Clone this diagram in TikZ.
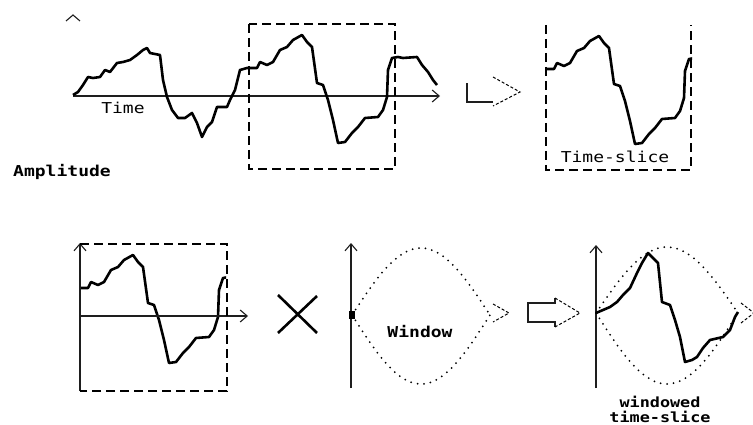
\documentclass[tikz,border=0pt]{standalone}
\usepackage{fontspec}
\usetikzlibrary{arrows.meta}
\newfontfamily\pixfont[FakeStretch=1.2]{DejaVu Sans Mono}
\definecolor{sliceInk}{RGB}{0,0,0}
\definecolor{slicePaper}{RGB}{255,255,255}
\definecolor{sliceAxis}{RGB}{30,30,30}

% recorded signal, one x/y pair per pixel column step
\def\signalpts{73/95,78/92,83/85,88/77,93/78,100/77,105/70,110/72,117/63,
  123/62,130/60,137/55,143/50,147/48,150/53,160/55,163/80,167/97,172/110,
  178/118,185/118,192/113,197/123,202/137,207/127,212/122,217/107,227/107,
  230/100,235/90,240/70,247/68,257/68,260/62,267/65,273/62,280/50,287/47,
  293/40,302/35,307/42,312/47,317/83,323/85,328/100,333/120,338/143,
  345/142,352/133,358/127,365/118,378/117,383/110,387/97,388/70,392/58,
  398/57,403/58,417/57,422/65,428/72,433/80,437/85}
\def\windowedpts{603/310,610/307,617/302,623/295,630/288,637/273,642/263,
  648/253,653/258,658/263,662/302,670/305,675/320,680/337,685/362,692/360,
  697/357,703/348,710/340,723/337,730/330,735/317,738/312}

\begin{document}
\begin{tikzpicture}[x=1pt,y=-1pt,
    signal/.style={draw=sliceInk, line width=2.6pt, line join=round},
    axis/.style={draw=sliceAxis, line width=1.1pt},
    axishead/.style={axis, -{Straight Barb[length=7pt,width=12pt]}},
    framedash/.style={draw=sliceInk, line width=1.2pt,
      dash pattern=on 9pt off 5pt},
    headdash/.style={draw=sliceInk, line width=1pt,
      dash pattern=on 3pt off 2pt},
    envelope/.style={draw=sliceInk, line width=2pt, line cap=round,
      dash pattern=on 0pt off 6.5pt},
    label/.style={font=\pixfont\fontsize{15}{13}\selectfont, text=sliceInk},
    boldlabel/.style={label, font=\pixfont\bfseries\fontsize{15}{13}\selectfont}]
  \useasboundingbox (0,0) rectangle (753,425);
  \fill[slicePaper] (0,0) rectangle (753,425);

  % top: whole signal
  \draw[axis] (66,21) -- (73,15) -- (80,21);
  \draw[axishead] (73,96) -- (440,96);
  \draw[signal] (73,95) foreach \px/\py in \signalpts {-- (\px,\py)};
  \draw[framedash] (249,24) rectangle (395,169);
  \node[label] (timeLabel) at (123,108) {Time};
  \node[boldlabel] (ampLabel) at (62,172) {Amplitude};

  \draw[axis] (493,102) -- (467,102) -- (467,83);
  \draw[headdash] (493,77) -- (520,92) -- (493,106);

  % top right: the cut-out slice
  \begin{scope}[shift={(297,1)}]
    \clip (249,0) rectangle (395,200);
    \draw[signal] (73,95) foreach \px/\py in \signalpts {-- (\px,\py)};
  \end{scope}
  \draw[framedash] (546,25) -- (546,170) -- (691,170) -- (691,25);
  \node[label] (sliceLabel) at (615,157) {Time-slice};

  % bottom left: slice on its own axes
  \begin{scope}[shift={(-169,220)}]
    \clip (249,0) rectangle (395,200);
    \draw[signal] (73,95) foreach \px/\py in \signalpts {-- (\px,\py)};
  \end{scope}
  \draw[axishead] (80,391) -- (80,243);
  \draw[axishead] (80,316) -- (248,316);
  \draw[framedash] (80,244) -- (227,244) -- (227,391) -- (80,391);

  \draw[sliceInk, line width=2.6pt] (278,295) -- (317,333);
  \draw[sliceInk, line width=2.6pt] (278,333) -- (317,296);

  % window function
  \draw[axishead] (351,388) -- (351,243);
  \fill[sliceInk] (349,311) rectangle (355,319);
  \draw[envelope] plot[domain=0:1, samples=40]
    ({352+138*\x}, {315-67*sin(180*\x)});
  \draw[envelope] plot[domain=0:1, samples=40]
    ({352+138*\x}, {315+69*sin(180*\x)});
  \draw[headdash] (493,304) -- (509,313) -- (493,322);
  \node[boldlabel] (windowLabel) at (420,332) {Window};

  \draw[axis] (555,298) -- (555,303) -- (528,303) -- (528,322)
    -- (555,322) -- (555,327);
  \draw[headdash] (555,298) -- (580,313) -- (555,327);

  % bottom right: slice times window
  \draw[axishead] (596,388) -- (596,245);
  \draw[envelope] plot[domain=0:1, samples=40]
    ({596+142*\x}, {313-66*sin(180*\x)});
  \draw[envelope] plot[domain=0:1, samples=40]
    ({596+142*\x}, {313+71*sin(180*\x)});
  \draw[headdash] (741,303) -- (754,313) -- (741,323);
  \draw[signal] (596,313) foreach \px/\py in \windowedpts {-- (\px,\py)};
  \node[boldlabel, align=center, inner sep=0pt,
    font=\pixfont\bfseries\fontsize{14}{15}\selectfont]
    (windowedLabel) at (660,409) {windowed\\time-slice};
\end{tikzpicture}
\end{document}
